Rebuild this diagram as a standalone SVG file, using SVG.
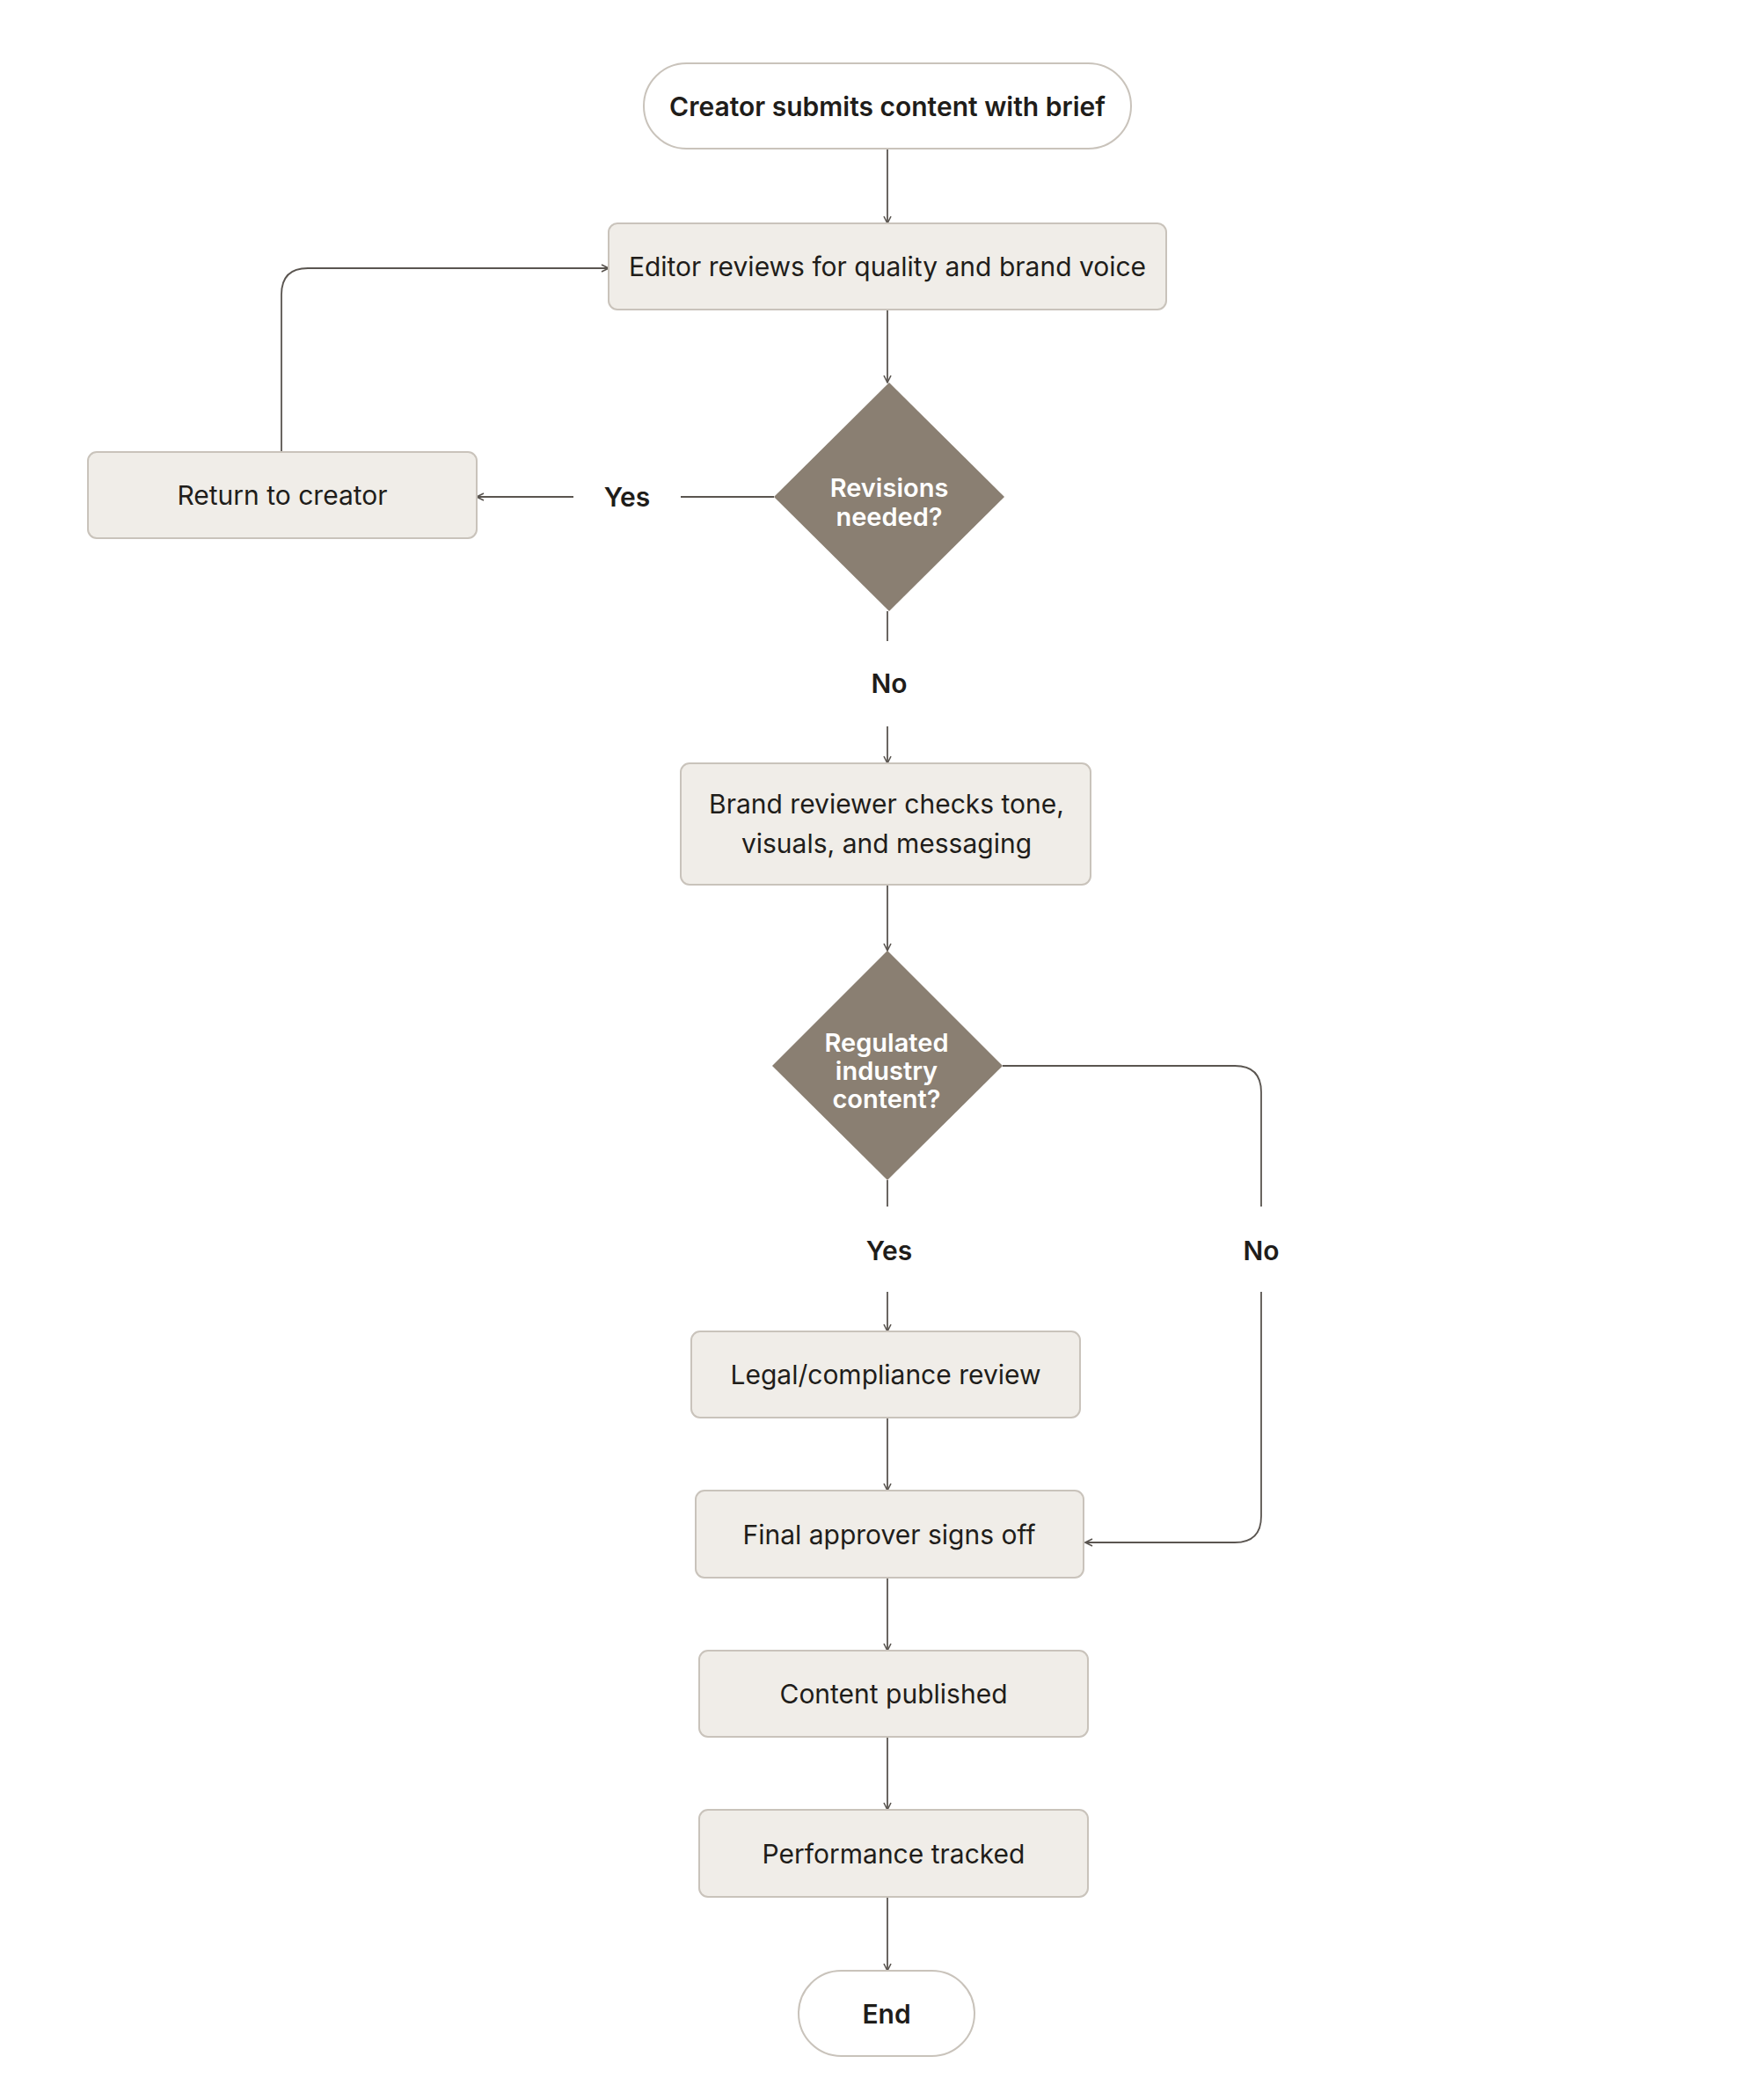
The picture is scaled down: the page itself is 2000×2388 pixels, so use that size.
<svg xmlns="http://www.w3.org/2000/svg" width="2000" height="2388" viewBox="0 0 2000 2388">
<style>
text{font-family:Inter,"Noto Sans","Liberation Sans",sans-serif;font-size:30px;fill:#1f1d1a;text-anchor:middle;dominant-baseline:central}
.b{font-weight:600}
.box{fill:#f0ede8;stroke:#c9c3bb;stroke-width:2}
.pill{fill:#fff;stroke:#c9c3bb;stroke-width:2}
.dia{fill:#8a7f72}
.dt{fill:#fff;font-weight:600;font-size:29px}
.c{fill:none;stroke:#5a5550;stroke-width:1.8}
</style>
<defs><marker id="a" viewBox="0 0 10 10" refX="9" refY="5" markerWidth="10" markerHeight="10" markerUnits="userSpaceOnUse" orient="auto"><path d="M1 1L9 5L1 9" fill="none" stroke="#5a5550" stroke-width="1.6"/></marker></defs>
<g id="connectors">
<path class="c" d="M1009 169V254" marker-end="url(#a)"/>
<path class="c" d="M1009 352V435" marker-end="url(#a)"/>
<path class="c" d="M880 565H774"/>
<path class="c" d="M652 565H542" marker-end="url(#a)"/>
<path class="c" d="M320 514V335Q320 305 350 305H692" marker-end="url(#a)"/>
<path class="c" d="M1009 695V729"/>
<path class="c" d="M1009 826V868" marker-end="url(#a)"/>
<path class="c" d="M1009 1006V1081" marker-end="url(#a)"/>
<path class="c" d="M1009 1342V1372"/>
<path class="c" d="M1009 1469V1514" marker-end="url(#a)"/>
<path class="c" d="M1140 1212H1404Q1434 1212 1434 1242V1372"/>
<path class="c" d="M1434 1469V1724Q1434 1754 1404 1754H1234" marker-end="url(#a)"/>
<path class="c" d="M1009 1612V1695" marker-end="url(#a)"/>
<path class="c" d="M1009 1794V1877" marker-end="url(#a)"/>
<path class="c" d="M1009 1975V2058" marker-end="url(#a)"/>
<path class="c" d="M1009 2157V2241" marker-end="url(#a)"/>
</g>
<g id="start"><rect class="pill" x="732" y="72" width="554" height="97" rx="48.5"/><text class="b" x="1009" y="121">Creator submits content with brief</text></g>
<g id="editor"><rect class="box" x="692" y="254" width="634" height="98" rx="10"/><text x="1009" y="303">Editor reviews for quality and brand voice</text></g>
<g id="d1"><path class="dia" d="M1011 435L1142 565L1011 695L880 565Z"/><text class="dt" x="1011" y="554">Revisions</text><text class="dt" x="1011" y="587">needed?</text></g>
<g id="return"><rect class="box" x="100" y="514" width="442" height="98" rx="10"/><text x="321" y="563">Return to creator</text></g>
<g id="lyes1"><text class="b" x="713" y="565">Yes</text></g>
<g id="lno1"><text class="b" x="1011" y="777">No</text></g>
<g id="brand"><rect class="box" x="774" y="868" width="466" height="138" rx="10"/><text x="1008" y="914">Brand reviewer checks tone,</text><text x="1008" y="959">visuals, and messaging</text></g>
<g id="d2"><path class="dia" d="M1009 1081L1140 1212L1009 1342L878 1212Z"/><text class="dt" x="1008" y="1185">Regulated</text><text class="dt" x="1008" y="1217">industry</text><text class="dt" x="1008" y="1249">content?</text></g>
<g id="lyes2"><text class="b" x="1011" y="1422">Yes</text></g>
<g id="lno2"><text class="b" x="1434" y="1422">No</text></g>
<g id="legal"><rect class="box" x="786" y="1514" width="442" height="98" rx="10"/><text x="1007" y="1563">Legal/compliance review</text></g>
<g id="final"><rect class="box" x="791" y="1695" width="441" height="99" rx="10"/><text x="1011" y="1745">Final approver signs off</text></g>
<g id="published"><rect class="box" x="795" y="1877" width="442" height="98" rx="10"/><text x="1016" y="1926">Content published</text></g>
<g id="tracked"><rect class="box" x="795" y="2058" width="442" height="99" rx="10"/><text x="1016" y="2108">Performance tracked</text></g>
<g id="end"><rect class="pill" x="908" y="2241" width="200" height="97" rx="48.5"/><text class="b" x="1008" y="2290">End</text></g>
</svg>
